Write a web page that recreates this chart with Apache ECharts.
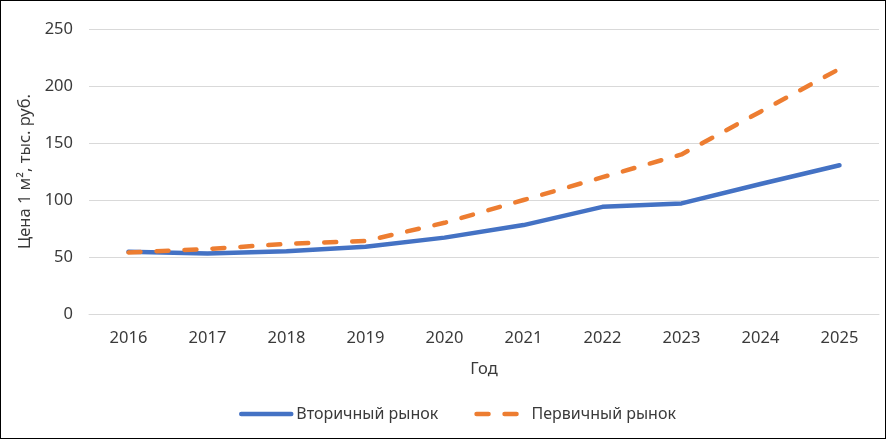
<!DOCTYPE html>
<html>
<head>
<meta charset="utf-8">
<script src="https://cdn.jsdelivr.net/npm/echarts@6/dist/echarts.min.js"></script>
<style>
html,body{margin:0;padding:0;background:#fff;}
#c{width:886px;height:439px;box-sizing:border-box;border:1px solid #000;}
</style>
</head>
<body>
<div id="c"></div>
<script>
const years = ['2016','2017','2018','2019','2020','2021','2022','2023','2024','2025'];
const secondary = [54.5, 53, 55, 59, 67, 78, 94, 97, 114, 130.5];
const primary = [54, 57, 61.5, 64, 80, 100, 120, 140, 177.5, 215];
const seriesNames = ['Вторичный рынок', 'Первичный рынок'];
const yTicks = {min: 0, max: 250, interval: 50};

const FONT = 'Noto Sans';
const TXT = '#3a3a3a';
const chart = echarts.init(document.getElementById('c'), null, {renderer: 'canvas'});
chart.setOption({
  animation: false,
  textStyle: {fontFamily: FONT},
  grid: {left: 88, right: 6, top: 28, bottom: 124},
  legend: {
    left: 233, top: 400,
    itemWidth: 50, itemHeight: 14, itemGap: 36,
    itemStyle: {color: 'rgba(0,0,0,0)', borderWidth: 0, opacity: 0},
    lineStyle: {width: 4.5, cap: 'round'},
    textStyle: {fontFamily: FONT, fontSize: 16, color: TXT},
    data: seriesNames
  },
  xAxis: {
    type: 'category', data: years, boundaryGap: true,
    name: 'Год', nameLocation: 'middle', nameGap: 47,
    nameTextStyle: {fontFamily: FONT, fontSize: 16.5, color: TXT},
    axisLine: {show: true, lineStyle: {color: '#d9d9d9', width: 1}},
    axisTick: {show: false},
    axisLabel: {fontFamily: FONT, fontSize: 16.5, color: TXT, margin: 16}
  },
  yAxis: {
    type: 'value', min: yTicks.min, max: yTicks.max, interval: yTicks.interval,
    name: 'Цена 1 м², тыс. руб.', nameLocation: 'middle', nameGap: 53, nameRotate: 90,
    nameTextStyle: {fontFamily: FONT, fontSize: 16.5, color: TXT},
    axisLine: {show: false}, axisTick: {show: false},
    axisLabel: {fontFamily: FONT, fontSize: 16.5, color: TXT, margin: 16},
    splitLine: {lineStyle: {color: '#d9d9d9', width: 1}}
  },
  series: [
    {
      name: seriesNames[0], type: 'line', data: secondary, symbol: 'none',
      lineStyle: {color: '#4472C4', width: 4.5, cap: 'round', join: 'round'},
      itemStyle: {color: '#4472C4'}
    },
    {
      name: seriesNames[1], type: 'line', data: primary, symbol: 'none',
      lineStyle: {color: '#ED7D31', width: 4.5, type: [12, 16], dashOffset: 0, cap: 'round', join: 'round'},
      itemStyle: {color: '#ED7D31'}
    }
  ]
});
</script>
</body>
</html>
